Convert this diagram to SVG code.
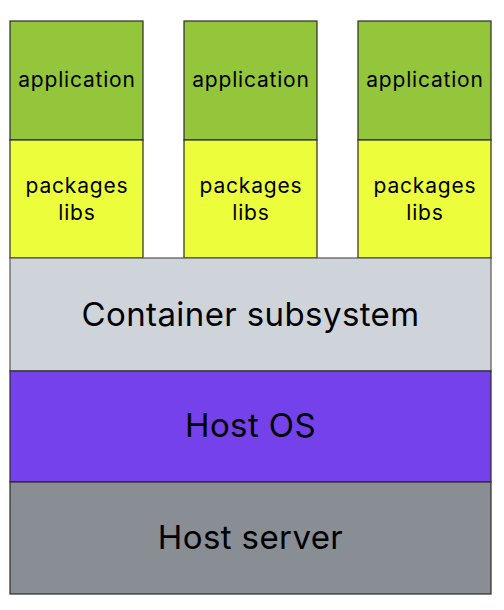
<svg xmlns="http://www.w3.org/2000/svg" width="504" height="610" viewBox="0 0 504 610">
<style>
rect{stroke:#2b2b2b;stroke-width:1.2}
.app{fill:#94c63b}
.pkg{fill:#ebfd3b}
text{font-family:Inter,"Liberation Sans",sans-serif;fill:#000;text-anchor:middle}
.s{font-size:21px;letter-spacing:0.8px}
.l{font-size:33px;letter-spacing:0.4px}
</style>
<rect width="504" height="610" fill="#fff" style="stroke:none"/>
<g id="app1"><rect class="app" x="10" y="21" width="133" height="119"/><text class="s" x="77" y="87">application</text></g>
<g id="pkg1"><rect class="pkg" x="10" y="140" width="133" height="118"/><text class="s" x="77" y="193">packages</text><text class="s" x="77" y="220">libs</text></g>
<g id="app2"><rect class="app" x="184" y="21" width="133" height="119"/><text class="s" x="251" y="87">application</text></g>
<g id="pkg2"><rect class="pkg" x="184" y="140" width="133" height="118"/><text class="s" x="251" y="193">packages</text><text class="s" x="251" y="220">libs</text></g>
<g id="app3"><rect class="app" x="358" y="21" width="133" height="119"/><text class="s" x="425" y="87">application</text></g>
<g id="pkg3"><rect class="pkg" x="358" y="140" width="133" height="118"/><text class="s" x="425" y="193">packages</text><text class="s" x="425" y="220">libs</text></g>
<g id="container"><rect x="10" y="258" width="481" height="113" fill="#cfd4db" style="stroke:#555"/><text class="l" x="250.5" y="326">Container subsystem</text></g>
<g id="hostos"><rect x="10" y="371" width="481" height="111" fill="#7441ea"/><text class="l" x="250.5" y="437">Host OS</text></g>
<g id="hostserver"><rect x="10" y="482" width="481" height="112" fill="#898d94"/><text class="l" x="250.5" y="549">Host server</text></g>
<g id="connectors"/>
</svg>
